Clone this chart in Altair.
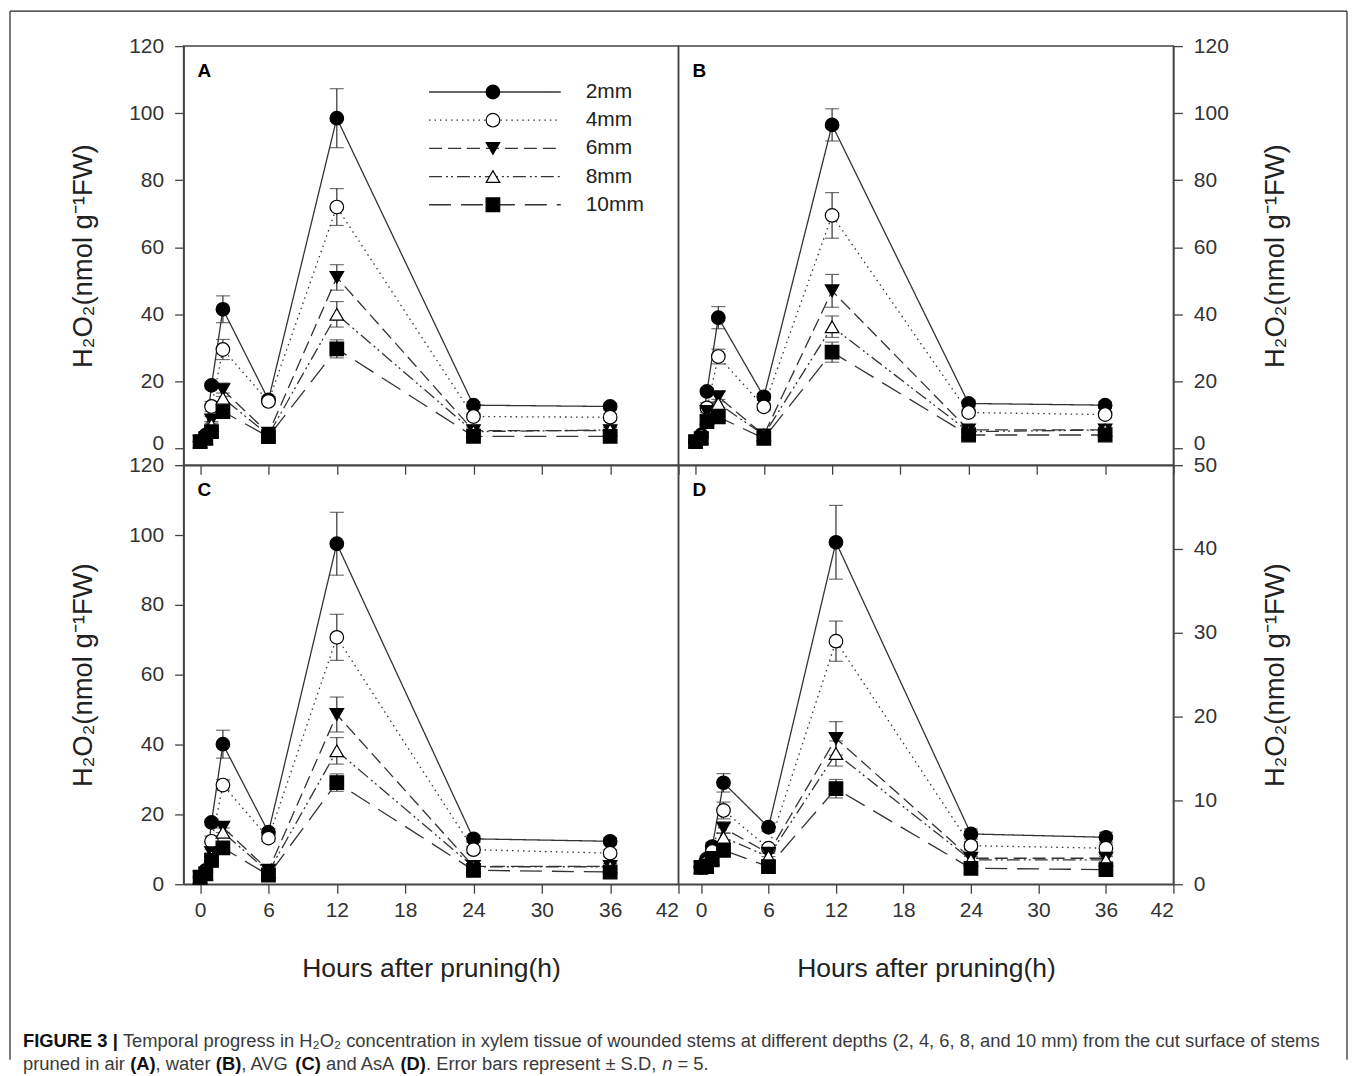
import altair as alt
import pandas as pd

# ---------------- data ----------------
TIMES = [0, 0.5, 1, 2, 6, 12, 24, 36]
DEPTHS = ["2mm", "4mm", "6mm", "8mm", "10mm"]
X_TICKS = [0, 6, 12, 18, 24, 30, 36, 42]

# Panel A (air)
A_MEAN = {
    "2mm": [2.0, 4.0, 18.8, 41.5, 14.5, 98.5, 12.9, 12.5],
    "4mm": [2.0, 3.5, 12.5, 29.5, 14.0, 72.0, 9.5, 9.3],
    "6mm": [2.0, 3.0, 8.5, 17.5, 4.5, 51.0, 5.3, 5.3],
    "8mm": [2.0, 3.0, 7.0, 15.0, 4.0, 40.0, 5.0, 5.5],
    "10mm": [2.0, 3.0, 5.0, 11.0, 3.5, 29.7, 3.6, 3.6],
}
A_SD = {
    "2mm": [0.3, 0.5, 1.0, 4.0, 1.0, 8.8, 1.0, 1.0],
    "4mm": [0.3, 0.5, 1.5, 3.0, 1.0, 5.5, 1.0, 1.0],
    "6mm": [0.3, 0.5, 1.0, 2.0, 0.8, 3.8, 0.8, 0.8],
    "8mm": [0.3, 0.5, 1.0, 1.5, 0.8, 3.8, 0.8, 0.8],
    "10mm": [0.3, 0.5, 1.0, 1.5, 0.8, 2.7, 0.8, 0.8],
}
# Panel B (water)
B_MEAN = {
    "2mm": [2.0, 4.0, 17.0, 39.0, 15.4, 96.5, 13.4, 12.9],
    "4mm": [2.0, 3.5, 12.1, 27.4, 12.4, 69.5, 10.7, 10.1],
    "6mm": [2.0, 3.0, 11.0, 15.4, 4.0, 47.0, 5.5, 5.5],
    "8mm": [2.0, 3.0, 9.0, 13.4, 4.0, 36.3, 5.0, 5.5],
    "10mm": [2.0, 3.0, 8.0, 9.4, 3.0, 28.7, 4.0, 4.0],
}
B_SD = {
    "2mm": [0.3, 0.5, 1.0, 3.3, 1.0, 4.8, 1.0, 1.0],
    "4mm": [0.3, 0.5, 1.5, 2.2, 1.0, 6.8, 1.0, 1.0],
    "6mm": [0.3, 0.5, 1.0, 1.5, 0.8, 4.9, 0.8, 0.8],
    "8mm": [0.3, 0.5, 1.0, 1.2, 0.8, 3.2, 0.8, 0.8],
    "10mm": [0.3, 0.5, 1.0, 1.2, 0.8, 3.0, 0.8, 0.8],
}
# Panel C (AVG)
C_MEAN = {
    "2mm": [2.1, 4.0, 17.7, 40.1, 14.9, 97.5, 13.0, 12.3],
    "4mm": [2.0, 3.5, 12.3, 28.4, 13.2, 70.7, 9.9, 8.9],
    "6mm": [2.0, 3.0, 9.0, 16.3, 4.0, 48.6, 5.1, 5.1],
    "8mm": [2.0, 3.0, 8.0, 14.9, 3.5, 38.2, 5.0, 5.0],
    "10mm": [2.0, 3.0, 6.8, 10.4, 2.6, 29.1, 4.0, 3.5],
}
C_SD = {
    "2mm": [0.3, 0.5, 1.0, 4.0, 1.0, 9.0, 1.0, 1.0],
    "4mm": [0.3, 0.5, 1.5, 1.5, 1.0, 6.6, 1.0, 1.0],
    "6mm": [0.3, 0.5, 1.0, 1.5, 0.8, 5.0, 0.8, 0.8],
    "8mm": [0.3, 0.5, 1.0, 1.2, 0.8, 3.8, 0.8, 0.8],
    "10mm": [0.3, 0.5, 1.0, 1.2, 0.8, 2.5, 0.8, 0.8],
}
# Panel D (AsA)
D_MEAN = {
    "2mm": [2.1, 3.0, 4.5, 12.1, 6.8, 40.8, 6.0, 5.6],
    "4mm": [2.0, 2.5, 3.9, 8.8, 4.3, 29.0, 4.6, 4.3],
    "6mm": [2.0, 2.3, 3.2, 6.7, 3.7, 17.4, 3.1, 3.1],
    "8mm": [2.0, 2.2, 3.0, 5.6, 3.3, 15.6, 2.9, 2.9],
    "10mm": [2.0, 2.1, 2.9, 4.05, 2.1, 11.4, 1.9, 1.75],
}
D_SD = {
    "2mm": [0.2, 0.3, 0.5, 1.1, 0.5, 4.4, 0.6, 0.6],
    "4mm": [0.2, 0.3, 0.5, 1.0, 0.4, 2.4, 0.5, 0.5],
    "6mm": [0.2, 0.3, 0.4, 0.6, 0.4, 2.0, 0.4, 0.4],
    "8mm": [0.2, 0.3, 0.4, 0.5, 0.4, 1.5, 0.4, 0.4],
    "10mm": [0.2, 0.3, 0.4, 0.5, 0.3, 1.1, 0.3, 0.3],
}

Y_TITLE = "H\u2082O\u2082(nmol g\u207b\u00b9FW)"
X_TITLE = "Hours after pruning(h)"
CAPTION_1 = [
    ("FIGURE 3 |", "bold", "normal"),
    (" Temporal progress in H\u2082O\u2082 concentration in xylem tissue of wounded stems at "
     "different depths (2, 4, 6, 8, and 10 mm) from the cut surface of stems", "normal", "normal"),
]
CAPTION_2 = [
    ("pruned in air ", "normal", "normal"),
    ("(A)", "bold", "normal"),
    (", water ", "normal", "normal"),
    ("(B)", "bold", "normal"),
    (", AVG ", "normal", "normal"),
    ("(C)", "bold", "normal"),
    (" and AsA ", "normal", "normal"),
    ("(D)", "bold", "normal"),
    (". Error bars represent \u00b1 S.D, ", "normal", "normal"),
    ("n", "normal", "italic"),
    (" = 5.", "normal", "normal"),
]

FONT = "Liberation Sans"
INK = "#333333"
W, H = 496, 420

# Arial / Liberation Sans advance widths (1/1000 em) used to lay out caption runs
_REG = {" ": 278, "(": 333, ")": 333, ",": 278, ".": 278, "=": 584, "\u00b1": 584, "|": 260,
        "A": 667, "B": 667, "C": 722, "D": 722, "E": 667, "F": 611, "G": 778, "I": 278,
        "R": 722, "S": 667, "U": 722, "V": 667, "a": 556, "b": 556, "c": 500, "d": 556,
        "e": 556, "f": 278, "g": 556, "h": 556, "i": 222, "l": 222, "m": 833, "n": 556,
        "o": 556, "p": 556, "r": 333, "s": 500, "t": 278, "u": 556, "w": 722, "x": 500,
        "y": 500, "z": 500}
_BOLD = {" ": 278, "(": 333, ")": 333, "|": 280, "A": 722, "B": 722, "C": 722, "D": 722,
         "E": 667, "F": 611, "G": 778, "I": 278, "R": 722, "U": 722, "3": 556}


def text_w(s, weight, size):
    table = _BOLD if weight == "bold" else _REG
    return sum(table.get(c, 556) for c in s) / 1000.0 * size


dash_scale = alt.Scale(domain=DEPTHS, range=[[1, 0], [1.5, 4], [13, 6], [13, 4, 2, 3, 2, 4], [22, 10]])
shape_scale = alt.Scale(domain=DEPTHS, range=["circle", "circle", "triangle-down", "triangle-up", "square"])
fill_scale = alt.Scale(domain=DEPTHS, range=["black", "white", "black", "white", "black"])


def make_df(mean, sd):
    rows = []
    for d in DEPTHS:
        for t, m, s in zip(TIMES, mean[d], sd[d]):
            rows.append({"time": t, "depth": d, "mean": m, "lo": m - s, "hi": m + s})
    return pd.DataFrame(rows)


def panel(mean, sd, ydomain, yvalues, xdomain, yorient, bottom, letter, title_pad, raise_zero, extras=()):
    df = make_df(mean, sd)
    xaxis = alt.Axis(values=X_TICKS, labels=bottom, title=X_TITLE if bottom else None,
                     grid=False, tickSize=9, labelPadding=6, titlePadding=35, titleFontSize=26.5)
    yaxis_kw = dict(values=yvalues, orient=yorient, grid=False, tickSize=9, labelPadding=11,
                    title=Y_TITLE, titlePadding=title_pad, titleFontSize=27.5)
    if raise_zero:
        yaxis_kw["labelOffset"] = {"condition": {"test": "datum.value == 0", "value": -5}, "value": 0}
    if yorient == "right":
        yaxis_kw.update(titleAngle=270, titleBaseline="top")
    yaxis = alt.Axis(**yaxis_kw)
    xs = alt.Scale(domain=xdomain, nice=False, zero=False)
    ys = alt.Scale(domain=ydomain, nice=False, zero=False)
    X = alt.X("time:Q", scale=xs, axis=xaxis)
    base = alt.Chart(df)
    lines = base.mark_line(color=INK, strokeWidth=1.3).encode(
        x=X, y=alt.Y("mean:Q", scale=ys, axis=yaxis),
        strokeDash=alt.StrokeDash("depth:N", scale=dash_scale, legend=None),
    )
    bars = base.mark_rule(color=INK, strokeWidth=1.2).encode(
        x=X, y=alt.Y("lo:Q", scale=ys, axis=yaxis), y2="hi:Q")
    cap_hi = base.mark_tick(orient="horizontal", size=14, thickness=1.2, color=INK).encode(
        x=X, y=alt.Y("hi:Q", scale=ys, axis=yaxis))
    cap_lo = base.mark_tick(orient="horizontal", size=14, thickness=1.2, color=INK).encode(
        x=X, y=alt.Y("lo:Q", scale=ys, axis=yaxis))
    pts = base.mark_point(filled=True, stroke="black", strokeWidth=1.2, opacity=1, size=185).encode(
        x=X, y=alt.Y("mean:Q", scale=ys, axis=yaxis),
        shape=alt.Shape("depth:N", scale=shape_scale, legend=None),
        fill=alt.Fill("depth:N", scale=fill_scale, legend=None),
    )
    lab = alt.Chart(pd.DataFrame({"t": [letter]})).mark_text(
        align="left", baseline="middle", fontSize=19, fontWeight="bold", font=FONT, color="black"
    ).encode(x=alt.value(14), y=alt.value(25), text="t:N")
    layers = [lines, bars, cap_hi, cap_lo, pts, lab] + list(extras)
    return alt.layer(*layers).properties(width=W, height=H)


one = pd.DataFrame({"k": [0]})

# frame around the whole figure (relative to panel A's plot origin)
FL, FT, FR, FB = -174, -35, 1166, 1016
frame = [
    alt.Chart(one).mark_rule(color="#222", strokeWidth=1.2).encode(
        x=alt.value(FL), y=alt.value(FT), y2=alt.value(FB)),
    alt.Chart(one).mark_rule(color="#222", strokeWidth=1.2).encode(
        x=alt.value(FR), y=alt.value(FT), y2=alt.value(FB)),
    alt.Chart(one).mark_rule(color="#222", strokeWidth=1.2).encode(
        x=alt.value(FL), x2=alt.value(FR), y=alt.value(FT)),
]

# caption runs (relative to panel C's plot origin); SVG trims edge spaces, so
# spaces are turned into offsets
CAP_SIZE = 18.4
caption = []
for line_y, runs in ((577, CAPTION_1), (600, CAPTION_2)):
    cx = -161.0
    for txt, weight, style in runs:
        lead = len(txt) - len(txt.lstrip(" "))
        draw_x = cx + text_w(" " * lead, weight, CAP_SIZE)
        caption.append(
            alt.Chart(one).mark_text(align="left", baseline="middle", fontSize=CAP_SIZE,
                                     fontWeight=weight, fontStyle=style, font=FONT,
                                     color="#111" if weight == "bold" else "#3a3a3a").encode(
                x=alt.value(round(draw_x, 1)), y=alt.value(line_y), text=alt.value(txt.strip(" "))))
        cx += text_w(txt, weight, CAP_SIZE)

# legend inside panel A
leg_df = pd.DataFrame({"depth": DEPTHS})
leg_y = alt.Y("depth:N", scale=alt.Scale(type="point", domain=DEPTHS, range=[46, 159], padding=0), axis=None)
leg = alt.layer(
    alt.Chart(leg_df).mark_rule(color=INK, strokeWidth=1.3).encode(
        x=alt.value(246), x2=alt.value(378), y=leg_y,
        strokeDash=alt.StrokeDash("depth:N", scale=dash_scale, legend=None)),
    alt.Chart(leg_df).mark_point(filled=True, stroke="black", strokeWidth=1.2, opacity=1, size=185).encode(
        x=alt.value(310), y=leg_y,
        shape=alt.Shape("depth:N", scale=shape_scale, legend=None),
        fill=alt.Fill("depth:N", scale=fill_scale, legend=None)),
    alt.Chart(leg_df).mark_text(align="left", baseline="middle", fontSize=21, font=FONT, color="#222").encode(
        x=alt.value(403), y=leg_y, text="depth:N"),
)

pA_main = panel(A_MEAN, A_SD, [-5, 120], list(range(0, 121, 20)), [-1.45, 42], "left", False, "A", 31, True, frame)
pA = alt.layer(pA_main, leg).resolve_scale(y="independent").properties(width=W, height=H)
pB = panel(B_MEAN, B_SD, [-5, 120], list(range(0, 121, 20)), [-1.5, 42], "right", False, "B", 33, True)
pC = panel(C_MEAN, C_SD, [0, 120], list(range(0, 121, 20)), [-1.45, 42], "left", True, "C", 31, False, caption)
pD = panel(D_MEAN, D_SD, [0, 50], list(range(0, 51, 10)), [-2, 42], "right", True, "D", 45, False)

chart = alt.concat(pA, pB, pC, pD, columns=2, spacing=0, bounds="flush").properties(
    padding=0, background="white"
).configure_view(stroke="#444", strokeWidth=1.5).configure_axis(
    domainColor="#444", domainWidth=1.5, tickColor="#444", tickWidth=1.3,
    labelFont=FONT, labelFontSize=21, labelColor="#333",
    titleFont=FONT, titleFontWeight="normal", titleColor="#222",
)

chart.save("out.html", embed_options={"renderer": "svg", "actions": False})
